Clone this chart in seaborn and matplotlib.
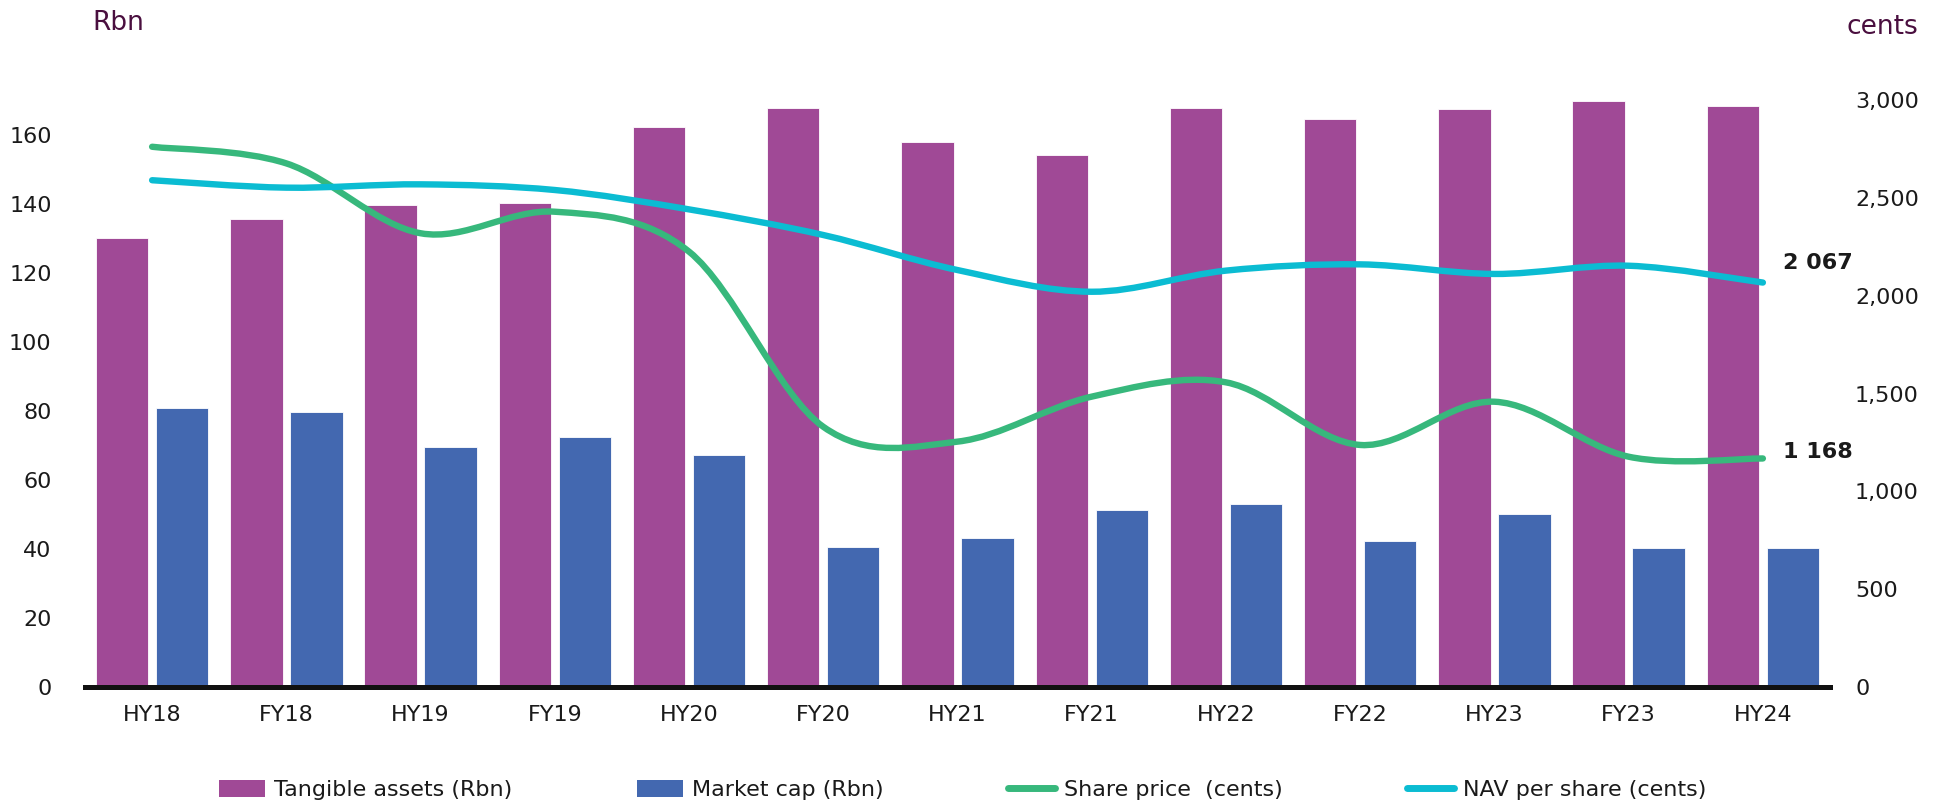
import numpy as np
import pandas as pd
import matplotlib
matplotlib.use("Agg")
import matplotlib.pyplot as plt
import seaborn as sns
from matplotlib.path import Path
from matplotlib.patches import PathPatch, Patch
from matplotlib.lines import Line2D
from matplotlib.ticker import FuncFormatter

# data
periods = ["HY18", "FY18", "HY19", "FY19", "HY20", "FY20", "HY21",
           "FY21", "HY22", "FY22", "HY23", "FY23", "HY24"]
tangible_assets = [129.9, 135.4, 139.6, 140.1, 162.1, 167.6, 157.9,
                   154.1, 167.6, 164.4, 167.3, 169.8, 168.3]
market_cap = [80.7, 79.6, 69.6, 72.5, 67.2, 40.6, 43.2,
              51.4, 52.9, 42.4, 50.0, 40.3, 40.4]
share_price = [2761, 2676, 2319, 2429, 2225, 1330, 1254,
               1484, 1557, 1237, 1458, 1177, 1168]
nav_per_share = [2590, 2552, 2569, 2540, 2441, 2310, 2131,
                 2020, 2128, 2160, 2111, 2153, 2067]

bar_names = ["Tangible assets (Rbn)", "Market cap (Rbn)"]
line_names = ["Share price  (cents)", "NAV per share (cents)"]

PURPLE = "#a04996"
BLUE = "#4368b0"
GREEN = "#37b87c"
CYAN = "#0bbcd2"
TITLE_COL = "#4a0f3f"
TXT = "#1a1a1a"

sns.set_style("white")
plt.rcParams["font.family"] = ["DejaVu Sans"]

df = pd.DataFrame({
    "period": periods * 2,
    "series": [bar_names[0]] * len(periods) + [bar_names[1]] * len(periods),
    "value": tangible_assets + market_cap,
})

fig = plt.figure(figsize=(19.44, 8.08), dpi=100)
W, H = 1944, 808
ax = fig.add_axes([85 / W, (H - 687) / H, (1830 - 85) / W, (687 - 100) / H])

sns.barplot(data=df, x="period", y="value", hue="series", order=periods,
            hue_order=bar_names, palette=[PURPLE, BLUE], saturation=1,
            width=0.894, gap=0.128, edgecolor="white", linewidth=0.6,
            legend=False, ax=ax)
ax.set_ylim(0, 170)
ax.set_xlim(-0.5, len(periods) - 0.5)
ax.set_yticks(range(0, 161, 20))
ax.set_xlabel("")
ax.set_ylabel("")
for s in ["top", "left", "right"]:
    ax.spines[s].set_visible(False)
ax.spines["bottom"].set_linewidth(3.6)
ax.spines["bottom"].set_color("#111111")
ax.tick_params(axis="y", length=0, pad=24, labelsize=16, labelcolor=TXT)
ax.tick_params(axis="x", length=0, pad=13, labelsize=16, labelcolor=TXT)

ax2 = ax.twinx()
ax2.set_ylim(0, 3000)
ax2.set_yticks(range(0, 3001, 500))
ax2.yaxis.set_major_formatter(FuncFormatter(lambda v, p: f"{int(v):,}"))
for s in ["top", "left", "right", "bottom"]:
    ax2.spines[s].set_visible(False)
ax2.tick_params(axis="y", length=0, pad=18, labelsize=16, labelcolor=TXT)


def smooth_path(xs, ys):
    # excel-style smoothed line through the data points
    pts = np.column_stack([xs, ys]).astype(float)
    n = len(pts)
    verts = [pts[0]]
    codes = [Path.MOVETO]
    for i in range(n - 1):
        p0 = pts[max(i - 1, 0)]
        p1 = pts[i]
        p2 = pts[i + 1]
        p3 = pts[min(i + 2, n - 1)]
        verts += [p1 + (p2 - p0) / 6, p2 - (p3 - p1) / 6, p2]
        codes += [Path.CURVE4] * 3
    return Path(verts, codes)


xs = np.arange(len(periods))
for vals, col in [(share_price, GREEN), (nav_per_share, CYAN)]:
    patch = PathPatch(smooth_path(xs, vals), fill=False, edgecolor=col,
                      lw=4.6, capstyle="round", joinstyle="round")
    ax2.add_patch(patch)

# end-point labels
ax2.annotate(f"{nav_per_share[-1]:,}".replace(",", " "), (xs[-1], nav_per_share[-1]),
             xytext=(14.5, 14), textcoords="offset points", ha="left", va="center",
             fontsize=16, fontweight="bold", color=TXT)
ax2.annotate(f"{share_price[-1]:,}".replace(",", " "), (xs[-1], share_price[-1]),
             xytext=(14.5, 5), textcoords="offset points", ha="left", va="center",
             fontsize=16, fontweight="bold", color=TXT)

# axis unit titles
fig.text(92 / W, 1 - 23 / H, "Rbn", fontsize=19, color=TITLE_COL, ha="left", va="center")
fig.text(1918 / W, 1 - 27 / H, "cents", fontsize=19, color=TITLE_COL, ha="right", va="center")

handles = [
    Patch(facecolor=PURPLE, edgecolor="none"),
    Patch(facecolor=BLUE, edgecolor="none"),
    Line2D([0], [0], color=GREEN, lw=5, solid_capstyle="round"),
    Line2D([0], [0], color=CYAN, lw=5, solid_capstyle="round"),
]
fig.legend(handles, bar_names + line_names, loc="center", bbox_to_anchor=(0.495, 18 / H),
           ncol=4, frameon=False, fontsize=16, handlelength=2.1, handleheight=0.8,
           handletextpad=0.4, columnspacing=5.6, labelcolor=TXT)

fig.savefig("out.png", dpi=100)
